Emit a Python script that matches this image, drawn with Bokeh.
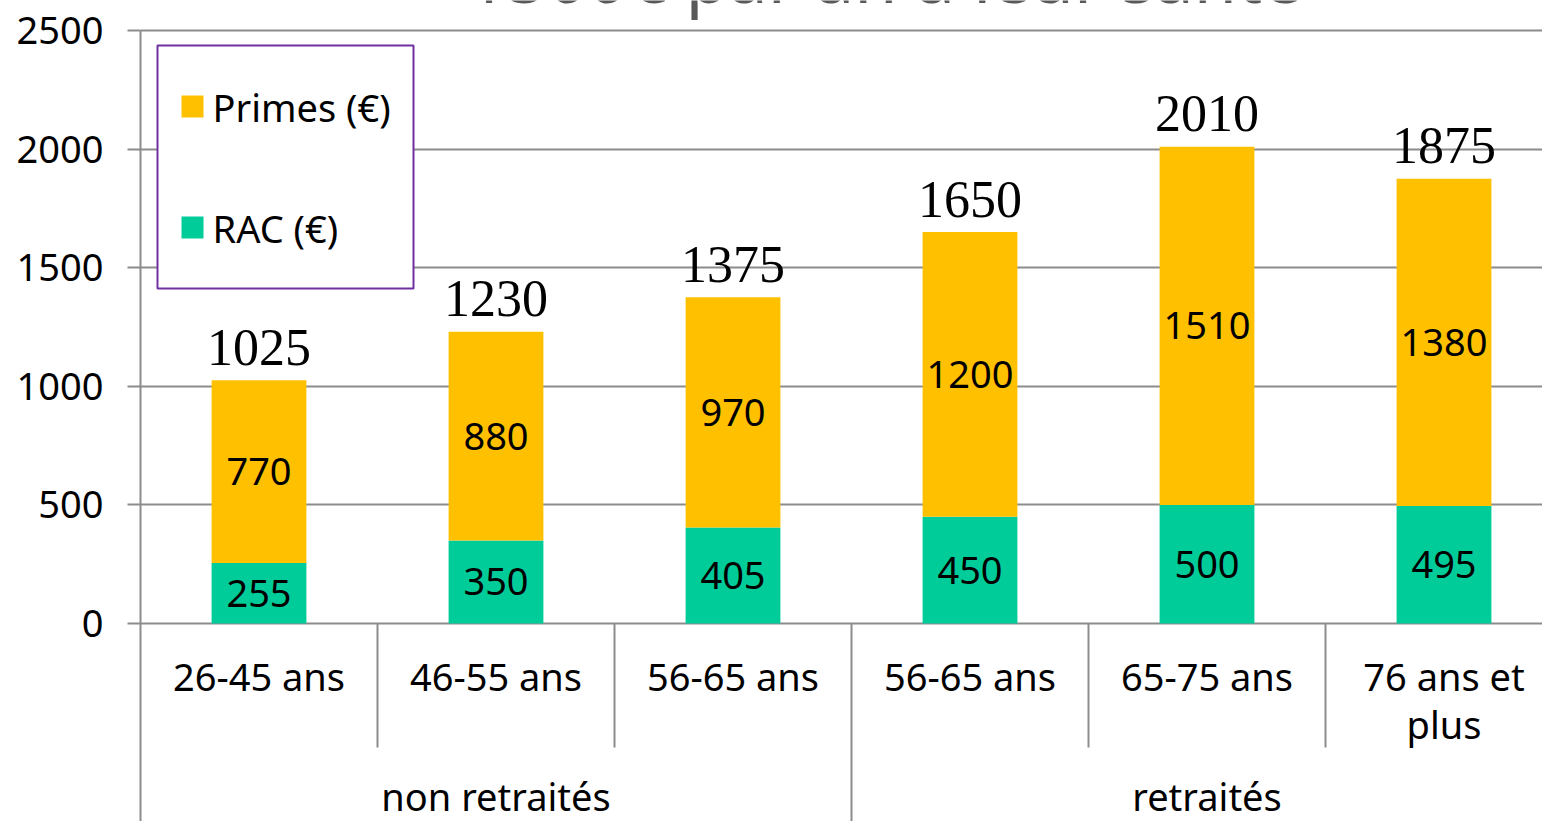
from bokeh.plotting import figure
from bokeh.models import Range1d, FixedTicker
from bokeh.core.properties import value
from bokeh.embed import file_html
from bokeh.resources import INLINE

# ---- data ----------------------------------------------------------------
categories = ["26-45 ans", "46-55 ans", "56-65 ans", "56-65 ans", "65-75 ans", "76 ans et\nplus"]
groups = ["non retraités", "retraités"]
group_sizes = [3, 3]
rac = [255, 350, 405, 450, 500, 495]          # RAC (€)
primes = [770, 880, 970, 1200, 1510, 1380]    # Primes (€)
series_names = ["Primes (€)", "RAC (€)"]
y_ticks = [0, 500, 1000, 1500, 2000, 2500]
title_line = "1500€ par an à leur santé"

# ---- layout constants (pixels) -------------------------------------------
W, H = 1542, 821
LEFT = 140            # y axis position
CAT_PX = 237          # width of one category slot
ZERO_PX = 623         # screen row of value 0
TOP_PX = 30           # screen row of value 2500
Y_MAX = 2500
K = (ZERO_PX - TOP_PX) / Y_MAX   # pixels per unit

def X(px):
    return (px - LEFT) / CAT_PX

def Y(py):
    return (ZERO_PX - py) / K

ORANGE = "#FFC000"
GREEN = "#00CC99"
GRID = "#8C8C8C"
SANS = "Noto Sans"

p = figure(width=W, height=H, output_backend="svg", toolbar_location=None,
           x_range=Range1d(0, X(W)), y_range=Range1d(Y(H), Y(0)),
           min_border_left=LEFT, min_border_right=0, min_border_top=0,
           min_border_bottom=0, background_fill_color="white",
           border_fill_color="white", outline_line_color=None)

p.xaxis.visible = False
p.xgrid.visible = False

yax = p.yaxis[0]
yax.ticker = FixedTicker(ticks=y_ticks)
yax.bounds = (Y(H), Y_MAX)
yax.axis_line_color = GRID
yax.axis_line_width = 2
yax.major_tick_line_color = GRID
yax.major_tick_line_width = 2
yax.major_tick_out = 13
yax.major_tick_in = 0
yax.minor_tick_line_color = None
yax.major_label_standoff = 24
yax.major_label_text_font = SANS
yax.major_label_text_font_size = "38px"
yax.major_label_text_color = "black"

p.ygrid.ticker = FixedTicker(ticks=y_ticks)
p.ygrid.grid_line_color = GRID
p.ygrid.grid_line_width = 2

n = len(categories)
xs = [i + 0.5 for i in range(n)]
totals = [a + b for a, b in zip(rac, primes)]

# stacked bars
p.vbar(x=xs, bottom=0, top=rac, width=0.4, fill_color=GREEN, line_color=None)
p.vbar(x=xs, bottom=rac, top=totals, width=0.4, fill_color=ORANGE, line_color=None)

# values inside the segments
p.text(x=xs, y=[v / 2 for v in rac], text=[str(v) for v in rac],
       text_align="center", text_baseline="middle", text_font=value(SANS),
       text_font_size="38px", text_color="black")
p.text(x=xs, y=[a + b / 2 for a, b in zip(rac, primes)], text=[str(v) for v in primes],
       text_align="center", text_baseline="middle", text_font=value(SANS),
       text_font_size="38px", text_color="black")

# totals above the bars
p.text(x=xs, y=[t + 33 / K for t in totals], text=[str(t) for t in totals],
       text_align="center", text_baseline="middle",
       text_font=value("Liberation Serif"), text_font_size="52px", text_color="black")

# category axis: separators and labels
bounds = [0]
for s in group_sizes:
    bounds.append(bounds[-1] + s)
long_sep = bounds[1:-1]
short_sep = [b for b in range(1, n) if b not in long_sep]
p.segment(x0=short_sep, y0=0, x1=short_sep, y1=Y(747), line_color=GRID, line_width=2)
p.segment(x0=long_sep, y0=0, x1=long_sep, y1=Y(H), line_color=GRID, line_width=2)

p.text(x=xs, y=Y(649), text=categories, text_align="center", text_baseline="top",
       text_font=value(SANS), text_font_size="38px", text_color="black",
       text_line_height=0.93)

group_x = [(bounds[i] + bounds[i + 1]) / 2 for i in range(len(groups))]
p.text(x=group_x, y=Y(795), text=groups, text_align="center", text_baseline="middle",
       text_font=value(SANS), text_font_size="38px", text_color="black")

# legend box
p.quad(left=X(157), right=X(413), top=Y(45), bottom=Y(288),
       fill_color="white", line_color="#7030A0", line_width=2)
leg_rows = [106, 227]
leg_colors = [ORANGE, GREEN]
p.quad(left=X(181), right=X(203), top=[Y(r - 11) for r in leg_rows],
       bottom=[Y(r + 11) for r in leg_rows], fill_color=leg_colors, line_color=None)
p.text(x=X(212), y=[Y(r) for r in leg_rows], text=series_names, text_align="left",
       text_baseline="middle", text_font=value(SANS), text_font_size="38px",
       text_color="black")

# title line (its upper part runs off the top of the page)
p.text(x=X(884), y=Y(23), text=[title_line], text_align="center",
       text_baseline="bottom", text_font=value(SANS), text_font_size="70px",
       text_color="#595959")

open("out.html", "w").write(file_html(p, INLINE))
